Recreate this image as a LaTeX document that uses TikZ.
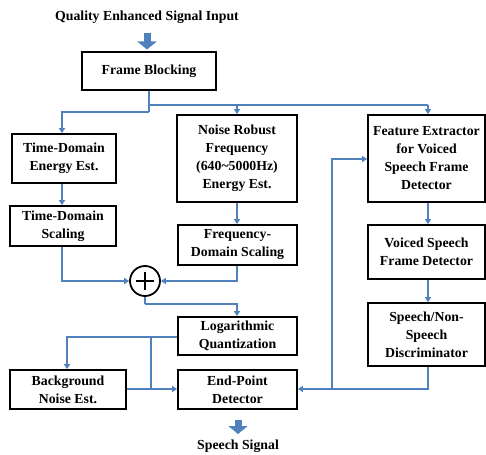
\documentclass[tikz,border=0pt]{standalone}
\usepackage{fontspec}
\setmainfont{Liberation Serif}
\usetikzlibrary{arrows.meta}
\definecolor{lineblue}{RGB}{79,129,189}
\tikzset{
  blk/.style={draw=black, line width=1.8pt, align=center, inner sep=1pt,
    font=\bfseries\fontsize{13.8}{18}\selectfont},
  lbl/.style={align=center, inner sep=0pt, font=\bfseries\fontsize{13.8}{16}\selectfont},
  conn/.style={draw=lineblue, line width=1.6pt, -{Triangle[length=5pt,width=6pt]}},
  plain/.style={draw=lineblue, line width=1.6pt},
  fat/.style={draw=lineblue, line width=7pt, -{Triangle[length=8pt,width=19pt]}},
}
\begin{document}
\begin{tikzpicture}[x=1pt,y=-1pt]
\useasboundingbox (0,0) rectangle (486,454);
\node[lbl] (title) at (147,17) {Quality Enhanced Signal Input};
\node[blk, minimum width=134pt, minimum height=38pt] (fb) at (149,71) {Frame Blocking};
\node[blk, minimum width=104pt, minimum height=49pt] (tde) at (64,158.5) {Time-Domain\\Energy Est.};
\node[blk, minimum width=120pt, minimum height=87pt] (nr) at (237,158.5) {Noise Robust\\Frequency\\(640\textasciitilde5000Hz)\\Energy Est.};
\node[blk, minimum width=117pt, minimum height=87pt] (fe) at (426.5,158.5) {Feature Extractor\\for Voiced\\Speech Frame\\Detector};
\node[blk, minimum width=106pt, minimum height=40pt] (tds) at (63,226) {Time-Domain\\Scaling};
\node[blk, minimum width=119pt, minimum height=40pt] (fds) at (237.5,245) {Frequency-\\Domain Scaling};
\node[draw=black, line width=1.8pt, circle, minimum size=30pt, inner sep=0pt] (sum) at (145,281) {};
\draw[line width=1.5pt] (sum.center) ++(-9,0) -- ++(18,0);
\draw[line width=1.5pt] (sum.center) ++(0,-9) -- ++(0,18);
\node[blk, minimum width=117pt, minimum height=54pt] (vs) at (426.5,252) {Voiced Speech\\Frame Detector};
\node[blk, minimum width=117pt, minimum height=63pt] (sn) at (426.5,334.5) {Speech/Non-\\Speech\\Discriminator};
\node[blk, minimum width=119pt, minimum height=38pt] (lq) at (237.5,336) {Logarithmic\\Quantization};
\node[blk, minimum width=116pt, minimum height=39pt] (bn) at (68,389.5) {Background\\Noise Est.};
\node[blk, minimum width=119pt, minimum height=39pt] (ep) at (237.5,389.5) {End-Point\\Detector};
\node[lbl] (out) at (238,446) {Speech Signal};
% fat arrows
\coordinate (in1) at (147,33);
\coordinate (in2) at (147,49.5);
\draw[fat] (in1) -- (in2);
\coordinate (o1) at (238,420);
\coordinate (o2) at (238,434);
\draw[fat] (o1) -- (o2);
% connectors
\coordinate (jfb) at (149,112);
\draw[plain] (fb.south -| jfb) -- (jfb);
\draw[conn] (jfb) -| ([xshift=-2pt]tde.north);
\coordinate (jr) at (149,105);
\draw[plain] (jr) -- (428,105);
\draw[conn] (428,105) -- (fe.north -| 428,0);
\draw[conn] (237,105) -- (nr.north);
\draw[conn] (tde.south -| 62,0) -- (tds.north -| 62,0);
\draw[conn] (tds.south -| 62,0) |- (sum.west);
\draw[conn] (nr.south) -- (fds.north -| nr.south);
\draw[conn] (fds.south -| 237,0) |- (sum.east);
\coordinate (js) at (145,304);
\draw[plain] (sum.south) -- (js);
\draw[conn] (js) -| (lq.north -| 237,0);
\coordinate (jl) at (151,337);
\draw[conn] (lq.west |- jl) -| (bn.north -| 67,0);
\coordinate (je) at (151,389);
\draw[plain] (jl) -- (je);
\draw[conn] (bn.east |- je) -- (ep.west |- je);
\draw[conn] (fe.south -| 428,0) -- (vs.north -| 428,0);
\draw[conn] (vs.south -| 428,0) -- (sn.north -| 428,0);
\coordinate (jv) at (332,389);
\draw[conn] (sn.south -| 428,0) |- (ep.east |- jv);
\draw[conn] (jv) |- (fe.west |- 0,159);
\end{tikzpicture}
\end{document}
